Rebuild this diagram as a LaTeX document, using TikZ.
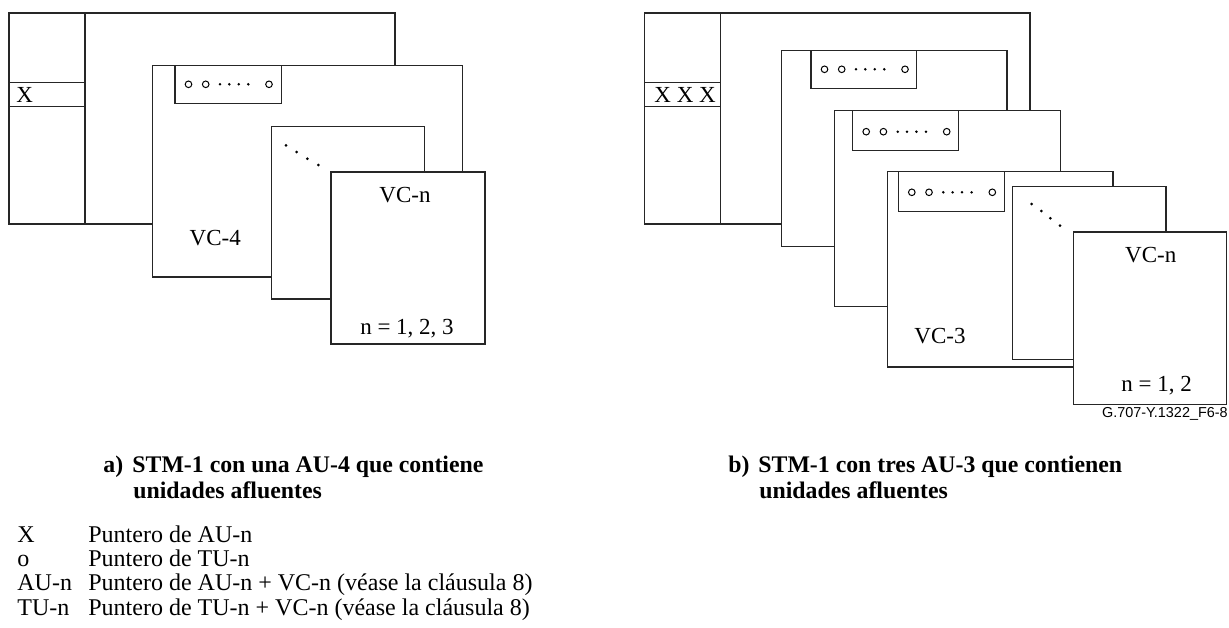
\documentclass[tikz,border=0pt]{standalone}
\usepackage{fontspec}
\setmainfont{Liberation Serif}
\newfontfamily\labelfont{Liberation Sans}
\newcommand\ptrdots[2]{%
  \draw[ring] (#1+13.5,#2) circle[radius=3.3];
  \draw[ring] (#1+30.7,#2) circle[radius=3.3];
  \foreach \d in {45,54.3,63.7,73.3} \fill (#1+\d,#2) circle[radius=1.4];
  \draw[ring] (#1+94,#2) circle[radius=3.3];}
\begin{document}
\begin{tikzpicture}[x=0.5pt,y=-0.5pt,
  box/.style={draw=black!85, line width=0.7pt, fill=white},
  txt/.style={inner sep=0pt, font=\fontsize{11.5}{13.8}\selectfont},
  legtxt/.style={inner sep=0pt, font=\fontsize{12}{14.4}\selectfont},
  captxt/.style={inner sep=0pt, font=\fontsize{11.9}{14.3}\selectfont\bfseries},
  ring/.style={draw=black, line width=0.5pt, fill=white}]
\useasboundingbox (0,0) rectangle (1229,627);
% ---------- a) ----------
\draw[box] (9,13) rectangle (395,224);
\draw[box] (85,13) -- (85,224);
\draw[box] (9,82.3) rectangle (85,106.3);
\node[txt, anchor=base west] (xa) at (16,102.3) {X};
\draw[box] (152.7,65.7) rectangle (462.7,277);
\draw[box] (175,65.7) rectangle (281.3,103.3);
\ptrdots{175}{84.3}
\node[txt, anchor=base] (vc4) at (215.3,245.7) {VC-4};
\draw[box] (271.3,126.3) rectangle (424.3,299);
\foreach \p in {(286,145.3),(296.7,152),(307.3,158.7),(318.3,165)} \fill \p circle[radius=1.5];
\draw[box] (331,172) rectangle (485,344);
\node[txt, anchor=base] (vcna) at (405,202.3) {VC-n};
\node[txt, anchor=base] (na) at (407,334.3) {n = 1, 2, 3};
% ---------- b) ----------
\draw[box] (644.7,13) rectangle (1030,224);
\draw[box] (720.3,13) -- (720.3,224);
\draw[box] (644.7,82.3) rectangle (720.3,106.3);
\node[txt, anchor=base west] (xb) at (654,102.7) {X X X};
\draw[box] (781.7,50.7) rectangle (1007,246.7);
\draw[box] (811,50.7) rectangle (916.7,88.3);
\ptrdots{811}{69.3}
\draw[box] (834.3,110.7) rectangle (1060.3,306.7);
\draw[box] (852.7,110.7) rectangle (958.7,150.3);
\ptrdots{852.7}{131.7}
\draw[box] (887.5,171.7) rectangle (1113,367);
\draw[box] (898.3,171.7) rectangle (1004.2,211.2);
\ptrdots{898.3}{192.3}
\node[txt, anchor=base] (vc3) at (940,343) {VC-3};
\draw[box] (1012.5,186.3) rectangle (1166,359.3);
\foreach \p in {(1031.7,204),(1041.3,211),(1050.3,218.3),(1060,225.7)} \fill \p circle[radius=1.5];
\draw[box] (1073.2,232) rectangle (1226.5,404.7);
\node[txt, anchor=base] (vcnb) at (1150.7,262.3) {VC-n};
\node[txt, anchor=base] (nb) at (1156.7,391.7) {n = 1, 2};
\node[inner sep=0pt, anchor=base east, font=\fontsize{7.2}{8}\labelfont] (fig) at (1228,417) {G.707-Y.1322\_F6-8};
% ---------- captions ----------
\node[captxt, anchor=base west] (capa0) at (103,472) {a)};
\node[captxt, anchor=base west] (capa1) at (132,472) {STM-1 con una AU-4 que contiene};
\node[captxt, anchor=base west] (capa2) at (133,498) {unidades afluentes};
\node[captxt, anchor=base west] (capb0) at (728,472) {b)};
\node[captxt, anchor=base west] (capb1) at (758,472) {STM-1 con tres AU-3 que contienen};
\node[captxt, anchor=base west] (capb2) at (759,498) {unidades afluentes};
% ---------- legend ----------
\node[legtxt, anchor=base west] (k1) at (17,542) {X};
\node[legtxt, anchor=base west] (d1) at (88,542) {Puntero de AU-n};
\node[legtxt, anchor=base west] (k2) at (17,566.3) {o};
\node[legtxt, anchor=base west] (d2) at (88,566.3) {Puntero de TU-n};
\node[legtxt, anchor=base west] (k3) at (17,590.7) {AU-n};
\node[legtxt, anchor=base west] (d3) at (88,590.7) {Puntero de AU-n + VC-n (véase la cláusula 8)};
\node[legtxt, anchor=base west] (k4) at (17,615) {TU-n};
\node[legtxt, anchor=base west] (d4) at (88,615) {Puntero de TU-n + VC-n (véase la cláusula 8)};
\end{tikzpicture}
\end{document}
